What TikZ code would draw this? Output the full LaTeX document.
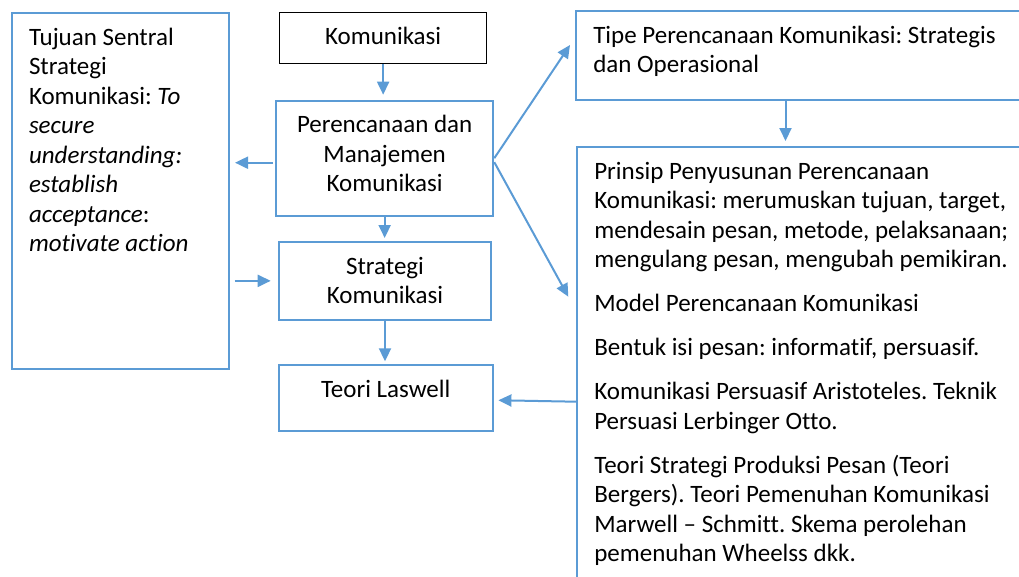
\documentclass[tikz,border=0pt]{standalone}
\usepackage{fontspec}
\setmainfont{Carlito}[Ligatures={TeX,NoCommon}]
\usetikzlibrary{arrows.meta,calc}

\definecolor{boxblue}{RGB}{91,155,213}

% text of a box, set from the top
\newcommand{\boxtext}[4]{\parbox[c][#3][t]{#2}{#1\frenchspacing\vspace*{11.4pt}\strut #4}}

\tikzset{
  box/.style={draw=boxblue, line width=2pt, inner sep=0pt, anchor=north west,
    font=\fontsize{25}{29.5}\selectfont},
  flow/.style={draw=boxblue, line width=2pt, -{Triangle[length=13pt,width=12pt]}},
}

\begin{document}
\begin{tikzpicture}[x=1pt,y=-1pt]
\useasboundingbox (0,0) rectangle (1019,576);
\clip (0,0) rectangle (1019,576);

%draw boxes
\node[box, inner xsep=17pt] (tujuan) at (11,12) {\boxtext{\raggedright}{183pt}{356pt}{Tujuan Sentral\\ Strategi\\ Komunikasi: \textit{To}\\ \textit{secure}\\ \textit{understanding:}\\ \textit{establish}\\ \textit{acceptance}:\\ \textit{motivate action}}};
\node[box, draw=black, line width=1pt] (kom) at (279,11.5) {\boxtext{\centering}{207.3pt}{51.5pt}{Komunikasi}};
\node[box] (renc) at (275,99.7) {\boxtext{\centering}{217.3pt}{115pt}{Perencanaan dan\\ Manajemen\\ Komunikasi}};
\node[box] (strat) at (277.7,241) {\boxtext{\centering}{212.6pt}{77.7pt}{Strategi\\ Komunikasi}};
\node[box] (teori) at (277.7,364.3) {\boxtext{\centering}{214pt}{65.7pt}{Teori Laswell}};
\node[box, inner xsep=17.3pt] (tipe) at (575,10) {\boxtext{\raggedright}{465pt}{89pt}{Tipe Perencanaan Komunikasi: Strategis\\ dan Operasional}};
\node[box, inner xsep=17.3pt] (prinsip) at (576,146) {\boxtext{\raggedright}{465pt}{500pt}{Prinsip Penyusunan Perencanaan\\ Komunikasi: merumuskan tujuan, target,\\ mendesain pesan, metode, pelaksanaan;\\ mengulang pesan, mengubah pemikiran.\\[14.5pt] Model Perencanaan Komunikasi\\[14.5pt] Bentuk isi pesan: informatif, persuasif.\\[14.5pt] Komunikasi Persuasif Aristoteles. Teknik\\ Persuasi Lerbinger Otto.\\[14.5pt] Teori Strategi Produksi Pesan (Teori\\ Bergers). Teori Pemenuhan Komunikasi\\ Marwell – Schmitt. Skema perolehan\\ pemenuhan Wheelss dkk.}};

%draw arrows down the middle
\draw[flow, shorten >=5pt] (kom.south) -- (kom.south |- renc.north);
\draw[flow, shorten >=3pt] (renc.south) -- (renc.south |- strat.north);
\draw[flow, shorten >=3pt] (strat.south) -- (strat.south |- teori.north);

%draw arrows to the left box
\draw[flow, shorten <=2pt, shorten >=5pt] ([yshift=-4.5pt]renc.west) -- ([yshift=-4.5pt]renc.west -| tujuan.east);
\draw[flow, shorten <=4.5pt, shorten >=7pt] (strat.west -| tujuan.east) -- (strat.west);

%draw arrows to the right boxes
\draw[flow] (renc.east) -- ($(tipe.north west)+(-5,35)$);
\draw[flow] ([yshift=-4pt]renc.east) -- ($(prinsip.north west)+(-7.7,150.7)$);
\draw[flow, shorten >=5pt] ($(tipe.south west)+(210.5,0)$) coordinate (tipeout) -- (tipeout |- prinsip.north);
\draw[flow] ($(prinsip.north west)+(0,255.7)$) -- ($(teori.east)+(4.7,2.1)$);

\end{tikzpicture}
\end{document}
